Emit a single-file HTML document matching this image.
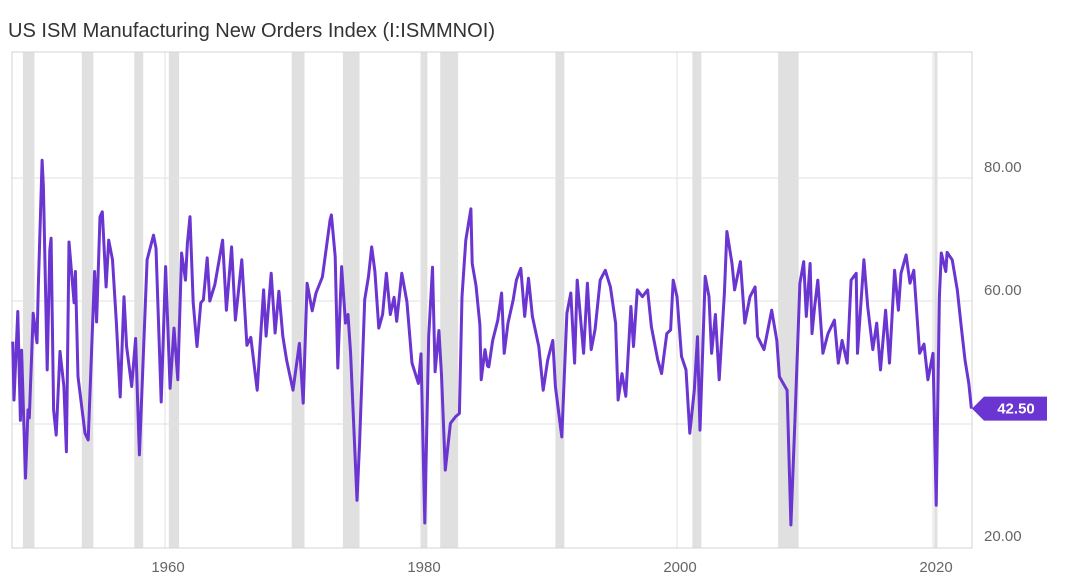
<!DOCTYPE html>
<html><head><meta charset="utf-8"><style>
html,body{margin:0;padding:0;background:#fff;width:1070px;height:586px;overflow:hidden}
svg{display:block}
text{font-family:"Liberation Sans",sans-serif}
</style></head><body>
<svg id="chart" width="1070" height="586" viewBox="0 0 1070 586">
<text x="8" y="37" font-size="20" fill="#333" textLength="487" lengthAdjust="spacingAndGlyphs">US ISM Manufacturing New Orders Index (I:ISMMNOI)</text>
<g id="rec"></g><g id="grid"></g><g id="axes"></g><g id="series"></g><g id="ann"></g>
</svg>
<script>
const years=[1948.1,1948.2,1948.5,1948.7,1948.8,1949.1,1949.3,1949.4,1949.7,1950.0,1950.1,1950.4,1950.5,1950.8,1951.0,1951.1,1951.3,1951.5,1951.8,1952.1,1952.3,1952.5,1952.9,1953.0,1953.2,1953.75,1954.0,1954.5,1954.66,1954.92,1955.1,1955.4,1955.6,1955.9,1956.2,1956.5,1956.8,1957.0,1957.4,1957.7,1958.0,1958.6,1959.1,1959.3,1959.7,1960.05,1960.4,1960.7,1961.0,1961.3,1961.6,1961.75,1961.95,1962.2,1962.5,1962.8,1963.0,1963.3,1963.5,1963.9,1964.5,1964.8,1965.2,1965.5,1966.0,1966.4,1966.7,1967.2,1967.7,1967.9,1968.3,1968.6,1968.9,1969.2,1969.5,1970.0,1970.5,1970.8,1971.1,1971.5,1971.8,1972.3,1972.9,1973.0,1973.3,1973.5,1973.8,1974.1,1974.3,1974.5,1975.0,1975.2,1975.6,1975.9,1976.15,1976.4,1976.7,1977.0,1977.3,1977.6,1977.9,1978.1,1978.5,1978.9,1979.3,1979.8,1980.0,1980.3,1980.6,1980.9,1981.1,1981.4,1981.6,1981.9,1982.3,1982.7,1983.0,1983.2,1983.5,1983.9,1984.0,1984.3,1984.6,1984.7,1985.0,1985.2,1985.3,1985.6,1986.0,1986.3,1986.5,1986.8,1987.2,1987.45,1987.8,1988.1,1988.4,1988.7,1989.2,1989.55,1989.9,1990.3,1990.5,1991.0,1991.4,1991.7,1992.0,1992.2,1992.7,1993.0,1993.3,1993.6,1994.0,1994.4,1994.8,1995.2,1995.4,1995.7,1996.0,1996.4,1996.6,1996.9,1997.3,1997.7,1998.0,1998.5,1998.8,1999.2,1999.5,1999.7,2000.0,2000.35,2000.7,2001.0,2001.35,2001.6,2001.8,2002.2,2002.5,2002.7,2003.0,2003.3,2003.7,2003.9,2004.3,2004.5,2004.95,2005.3,2005.7,2006.1,2006.3,2006.8,2007.4,2007.8,2008.0,2008.3,2008.6,2008.9,2009.2,2009.6,2009.9,2010.1,2010.4,2010.55,2010.75,2011.0,2011.4,2011.8,2012.3,2012.6,2012.9,2013.3,2013.6,2014.0,2014.1,2014.6,2014.9,2015.3,2015.6,2015.9,2016.3,2016.6,2017.0,2017.3,2017.5,2017.9,2018.2,2018.5,2018.95,2019.3,2019.6,2020.0,2020.25,2020.5,2020.65,2021.0,2021.1,2021.5,2021.9,2022.2,2022.5,2022.8,2023.0];
const values=[53.4,43.9,58.3,40.6,52,31.2,42.3,41,58,53.2,62.3,82.9,78.6,48.8,68.3,70.2,42.3,38.2,51.8,46.1,35.5,69.6,59.7,64.8,47.7,38.5,37.4,64.8,56.6,73.7,74.5,62.3,69.9,66.7,56.4,44.4,60.7,52.6,46.1,53.9,35,66.7,70.7,68.6,43.6,65.6,45.8,55.6,47.2,67.8,63.4,69.4,73.7,59.7,52.6,59.7,60.2,67,60,62.7,69.9,58.5,68.8,56.9,66.7,52.8,54.1,45.5,61.8,54.3,64.5,54.8,61.6,54.3,50.4,45.5,53.1,43.4,62.9,58.4,61.3,63.9,73.2,74,67.2,49.1,65.6,56.4,57.8,51.5,27.6,36.9,60.2,64,68.8,64.8,55.6,57.8,64.5,57.8,60.6,56.7,64.5,59.9,49.9,46.6,51.4,23.9,54.2,65.5,48.5,55.2,48,32.5,40.1,41.2,41.7,60.7,69.9,75,66.1,62.5,56.1,47.2,52.1,49.4,49.3,53.6,56.9,61.3,51.5,56.4,60.2,63.4,65.3,57.5,63.7,57.5,52.6,45.5,50.4,53.6,46.1,37.9,58,61.3,49.9,63.4,51.5,62.9,52.1,55.4,63.4,65,62.3,56.4,43.9,48.2,44.5,59.1,52.6,61.8,60.7,61.8,55.8,50.4,48.2,54.7,55.3,63.4,60.7,51,48.8,38.5,45.5,54.2,39,64,60.7,51.5,57.8,47.2,61.3,71.3,66.1,61.8,66.4,56.4,60.7,62.3,54.2,52.1,58.5,53.6,47.7,46.6,45.5,23.6,40,62.9,66.4,57.5,66.1,54.7,59,63.4,51.5,54.7,56.9,49.9,53.6,49.9,63.4,64.5,51.5,66.7,59.1,52.1,56.4,48.8,58.5,49.9,65,58.5,64.5,67.5,62.9,65,51.5,53,47.2,51.5,26.8,60.7,67.8,64.8,67.9,66.7,61.8,55.9,50.4,46.6,42.5];
const yTicks=[20,40,60,80];
const yTickLabels=["20.00","40.00","60.00","80.00"];
const xTicks=[1960,1980,2000,2020];
const recStart=[1948.9,1953.5,1957.6,1960.3,1969.9,1973.9,1980.0,1981.5,1990.5,2001.2,2007.9,2020.1];
const recEnd=[1949.8,1954.4,1958.3,1961.1,1970.9,1975.2,1980.5,1982.9,1991.2,2001.9,2009.5,2020.35];
const lastLabel="42.50";

const L=12,R=972,T=52,B=548;
function xs(y){return 165+(y-1960)*12.8;}
function ys(v){return 301-(v-60)*6.15;}
const NS="http://www.w3.org/2000/svg";
function mk(tag,parent,attrs){const e=document.createElementNS(NS,tag);for(const k in attrs)e.setAttribute(k,attrs[k]);document.getElementById(parent).appendChild(e);return e;}

for(let i=0;i<recStart.length;i++){
  const r=mk('rect','rec',{x:xs(recStart[i]),y:T,width:Math.max(3,xs(recEnd[i])-xs(recStart[i])),height:B-T,fill:'#e0e0e0'});
  
  
}
yTicks.forEach((v,i)=>{
  if(v>20){const g=mk('line','grid',{x1:L,x2:R,y1:ys(v),y2:ys(v),stroke:'#e2e2e2','stroke-width':1});
  
  }
  const t=mk('text','axes',{x:984,y:ys(v)-6,'font-size':15,fill:'#666'});
  t.textContent=yTickLabels[i];
  
  
});
xTicks.forEach(yr=>{
  const g=mk('line','grid',{x1:xs(yr),x2:xs(yr),y1:T,y2:B,stroke:'#e2e2e2','stroke-width':1});
  
  
  const t=mk('text','axes',{x:xs(yr)+3,y:572,'font-size':15,fill:'#666','text-anchor':'middle'});
  t.textContent=String(yr);
  
  
});
const frame=mk('path','axes',{d:`M${L},${T}H${R}V${B}H${L}Z`,fill:'none',stroke:'#d4d4d4','stroke-width':1});



let d='';
for(let i=0;i<years.length;i++){d+=(i?'L':'M')+xs(years[i]).toFixed(1)+','+ys(values[i]).toFixed(1);}
const line=mk('path','series',{d:d,fill:'none',stroke:'#6a35d0','stroke-width':3,'stroke-linejoin':'round'});



const ly=ys(values[values.length-1]);
const tag=mk('path','ann',{d:`M972,${ly}L984,${ly-12}H1047V${ly+12}H984Z`,fill:'#6a35d0'});


const tt=mk('text','ann',{x:1016,y:ly+5,'font-size':15,'font-weight':'bold',fill:'#fff','text-anchor':'middle'});
tt.textContent=lastLabel;


</script>
</body></html>
